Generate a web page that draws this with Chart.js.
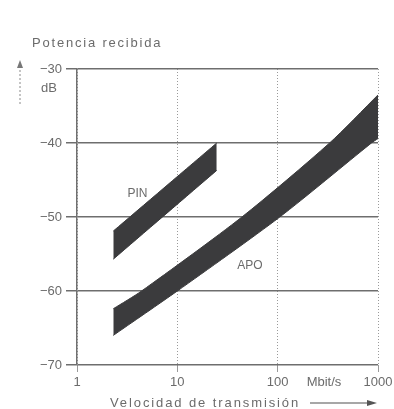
<!DOCTYPE html>
<html>
<head>
<meta charset="utf-8">
<script src="https://cdn.jsdelivr.net/npm/chart.js@4.4.1/dist/chart.umd.min.js"></script>
<style>
  html, body { margin: 0; padding: 0; background: #fff; }
  #wrap { width: 394px; height: 409px; }
</style>
</head>
<body>
<div id="wrap"><canvas id="potChart" width="394" height="409"></canvas></div>
<script>
// potencia recibida vs velocidad de transmision, PIN and APO bands
const xTicks = [1, 10, 100, 1000];
const xTickLabels = ['1', '10', '100', '1000'];
const yTicks = [-70, -60, -50, -40, -30];
const yTickLabels = ['−70', '−60', '−50', '−40', '−30'];

// PIN band
const pinX = [2.3, 24.7];
const pinTop = [-51.9, -40];
const pinBottom = [-55.7, -43.7];

// APO band (upper and lower edge read separately)
const apoTopX = [2.3, 4.4, 44, 329, 1000];
const apoTop = [-62.4, -60, -50, -40, -33.5];
const apoBottomX = [2.3, 10, 105, 860, 1000];
const apoBottom = [-66, -60, -50, -40, -39.4];

const pts = (xs, ys) => xs.map((v, i) => ({ x: v, y: ys[i] }));

const bandColor = '#3b3b3d';
const textColor = '#6b6b6b';

const band = (data, fill) => ({
    data: data,
    borderColor: bandColor,
    backgroundColor: bandColor,
    borderWidth: 1,
    pointRadius: 0,
    tension: 0.25,
    fill: fill
});

// extra texts: axis titles, units, band names
const annot = {
    id: 'annot',
    afterDraw(chart) {
        const { ctx, scales: { x, y } } = chart;
        ctx.save();
        ctx.fillStyle = textColor;
        ctx.strokeStyle = '#8a8a8a';
        ctx.textBaseline = 'middle';

        ctx.font = '13px "Liberation Sans", Arial, sans-serif';
        ctx.letterSpacing = '1.8px';
        ctx.textAlign = 'left';
        ctx.fillText('Potencia recibida', 32, 43);

        ctx.letterSpacing = '0px';
        ctx.textAlign = 'center';
        ctx.fillText('dB', 49, 88);

        // little arrow for the y axis
        ctx.lineWidth = 1;
        ctx.setLineDash([2, 2]);
        ctx.beginPath();
        ctx.moveTo(20, 104);
        ctx.lineTo(20, 66);
        ctx.stroke();
        ctx.setLineDash([]);
        ctx.fillStyle = '#777';
        ctx.beginPath();
        ctx.moveTo(20, 60);
        ctx.lineTo(17, 68);
        ctx.lineTo(23, 68);
        ctx.closePath();
        ctx.fill();

        ctx.fillStyle = textColor;
        ctx.fillText('Mbit/s', 324, 382);

        ctx.letterSpacing = '1.9px';
        ctx.textAlign = 'left';
        ctx.fillText('Velocidad de transmisión', 110, 403);
        ctx.letterSpacing = '0px';
        ctx.lineWidth = 1.5;
        ctx.beginPath();
        ctx.moveTo(310, 403);
        ctx.lineTo(369, 403);
        ctx.stroke();
        ctx.fillStyle = '#555';
        ctx.beginPath();
        ctx.moveTo(377, 403);
        ctx.lineTo(367, 400);
        ctx.lineTo(367, 406);
        ctx.closePath();
        ctx.fill();

        ctx.fillStyle = textColor;
        ctx.font = '12px "Liberation Sans", Arial, sans-serif';
        ctx.textAlign = 'center';
        ctx.fillText('PIN', x.getPixelForValue(4.0), y.getPixelForValue(-46.8));
        ctx.fillText('APO', x.getPixelForValue(53), y.getPixelForValue(-56.6));
        ctx.restore();
    }
};

const ctx = document.getElementById('potChart').getContext('2d');
new Chart(ctx, {
    type: 'line',
    data: {
        datasets: [
            band(pts(pinX, pinTop), '+1'),
            band(pts(pinX, pinBottom), false),
            band(pts(apoTopX, apoTop), '+1'),
            band(pts(apoBottomX, apoBottom), false)
        ]
    },
    options: {
        responsive: false,
        devicePixelRatio: 1,
        animation: false,
        layout: { padding: { top: 69, right: 16, bottom: 0, left: 0 } },
        plugins: {
            legend: { display: false },
            tooltip: { enabled: false }
        },
        scales: {
            x: {
                type: 'logarithmic',
                min: 1,
                max: 1000,
                afterBuildTicks: s => { s.ticks = xTicks.map(v => ({ value: v })); },
                afterFit: s => { s.height = 44; s.paddingLeft = 0; s.paddingRight = 0; },
                ticks: {
                    autoSkip: false,
                    maxRotation: 0,
                    padding: 3,
                    color: textColor,
                    font: { family: '"Liberation Sans", Arial, sans-serif', size: 13 },
                    callback: (v, i) => xTickLabels[i]
                },
                grid: { color: '#9a9a9a', lineWidth: 1, tickLength: 7 },
                border: { display: false, dash: [1, 2] }
            },
            y: {
                min: -70,
                max: -30,
                afterBuildTicks: s => { s.ticks = yTicks.map(v => ({ value: v })); },
                afterFit: s => { s.width = 77; s.paddingTop = 0; s.paddingBottom = 0; },
                ticks: {
                    padding: 4,
                    color: textColor,
                    font: { family: '"Liberation Sans", Arial, sans-serif', size: 13 },
                    callback: (v, i) => yTickLabels[i]
                },
                grid: { color: '#6e6e6e', lineWidth: 1.5, tickLength: 11 },
                border: { display: true, color: '#707070', width: 1.5 }
            }
        }
    },
    plugins: [annot]
});
</script>
</body>
</html>
